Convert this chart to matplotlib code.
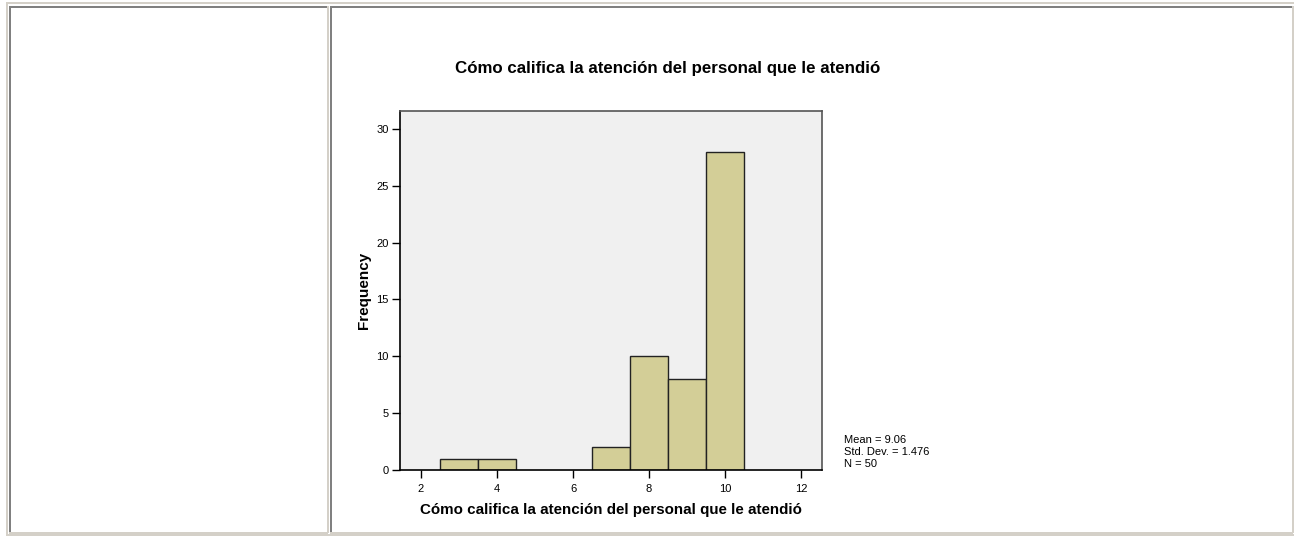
import matplotlib
matplotlib.use("Agg")
import matplotlib.pyplot as plt
from matplotlib.lines import Line2D

plt.rcParams['font.family'] = ['Liberation Sans', 'DejaVu Sans']

# Data
scores = [3, 4, 7, 8, 9, 10]
frequencies = [1, 1, 2, 10, 8, 28]
x_ticks = [2, 4, 6, 8, 10, 12]
y_ticks = [0, 5, 10, 15, 20, 25, 30]
title = "Cómo califica la atención del personal que le atendió"
xlabel = "Cómo califica la atención del personal que le atendió"
ylabel = "Frequency"
stats_lines = ["Mean = 9.06", "Std. Dev. = 1.476", "N = 50"]

W, H = 1294, 537
fig = plt.figure(figsize=(W / 100, H / 100), dpi=100)
fig.patch.set_facecolor('white')

def fx(x):
    return x / W

def fy(y):
    return 1 - y / H

def pline(x0, y0, x1, y1, color, lw=2):
    fig.add_artist(Line2D([fx(x0), fx(x1)], [fy(y0), fy(y1)], color=color,
                          linewidth=lw * 0.72, transform=fig.transFigure,
                          solid_capstyle='butt'))

light = '#d4d0c8'
dark = '#808080'
# outer table border
pline(6, 2.5, 1294, 2.5, light)
pline(6.5, 2, 6.5, 536, light)
pline(6, 534.5, 1294, 534.5, light)
# left cell
pline(9, 6.5, 328, 6.5, dark)
pline(9.5, 6, 9.5, 533, dark)
pline(327.5, 6, 327.5, 533, light)
pline(9, 532.5, 328, 532.5, light)
# right cell
pline(330, 6.5, 1293, 6.5, dark)
pline(330.5, 6, 330.5, 533, dark)
pline(1292.5, 6, 1292.5, 533, light)
pline(330, 532.5, 1293, 532.5, light)

# axes
left, right, top, bottom = 400, 822, 111, 470
ax = fig.add_axes([fx(left), fy(bottom), fx(right - left), fy(top) - fy(bottom)])
ax.set_facecolor('#f0f0f0')
ax.bar(scores, frequencies, width=1.0, color='#d3ce97', edgecolor='#222222',
       linewidth=1.0, zorder=2)
ax.set_xlim(1.447, 12.553)
ax.set_ylim(0, 31.58)
ax.set_xticks(x_ticks)
ax.set_yticks(y_ticks)
ax.tick_params(axis='both', direction='out', length=6, width=1, labelsize=8,
               colors='black', pad=2)
ax.tick_params(axis='x', pad=4)
for s in ['left', 'bottom']:
    ax.spines[s].set_color('black')
    ax.spines[s].set_linewidth(1.2)
for s in ['right', 'top']:
    ax.spines[s].set_color('#555555')
    ax.spines[s].set_linewidth(1.2)

fig.text(fx(611), fy(510), xlabel, fontsize=10.9, fontweight='bold',
         ha='center', va='center')
fig.text(fx(364), fy(290), ylabel, fontsize=11, fontweight='bold',
         ha='center', va='center', rotation=90)
fig.text(fx(668), fy(68), title, fontsize=12.15, fontweight='bold',
         ha='center', va='center')
fig.text(fx(844), fy(452), "\n".join(stats_lines), fontsize=8,
         ha='left', va='center', linespacing=1.2)

fig.savefig('out.png', dpi=100, facecolor='white')
